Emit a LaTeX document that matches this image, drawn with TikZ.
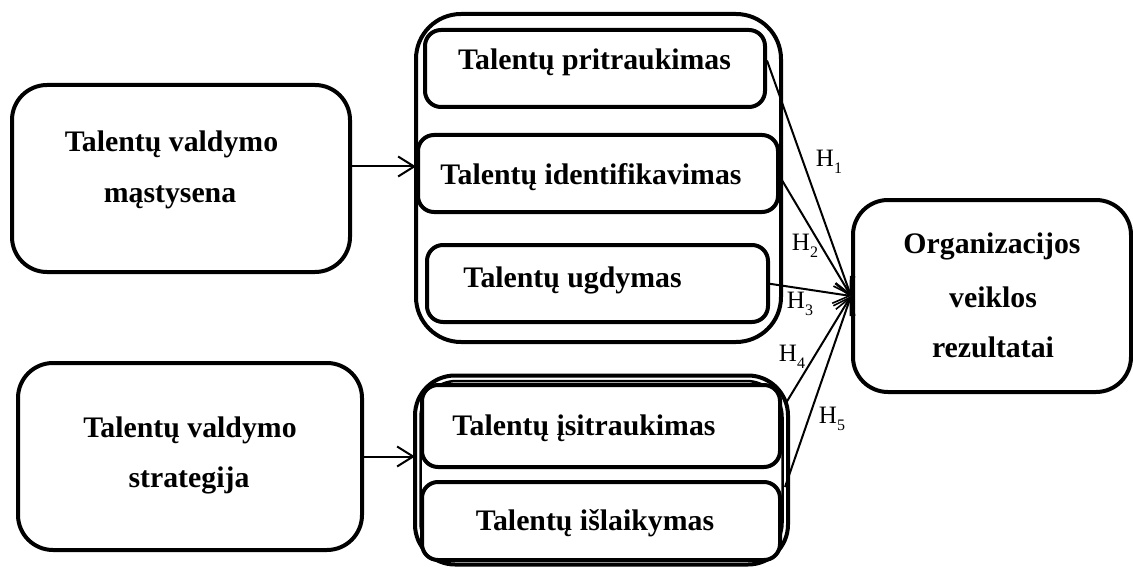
\documentclass[tikz,border=0pt]{standalone}
\usepackage{fontspec}
\setmainfont{Liberation Serif}
\usetikzlibrary{arrows.meta}
\newcommand\hsub[1]{\raisebox{-0.28em}{\fontsize{16}{16}\selectfont #1}}
\begin{document}
\begin{tikzpicture}[x=1pt,y=-1pt,
  box/.style={draw=black,line width=4pt,rectangle,inner sep=0pt,outer sep=0pt},
  bigbox/.style={box,rounded corners=35pt},
  grpbox/.style={box,rounded corners=45pt},
  smallbox/.style={box,rounded corners=16pt},
  lbl/.style={anchor=base,inner sep=0pt,font=\fontsize{29.8}{34}\selectfont\bfseries},
  hl/.style={inner sep=0pt,font=\fontsize{25}{26}\selectfont},
  arr/.style={line width=2pt,-{Straight Barb[length=16pt,width=20pt,line width=2pt]}},
  link/.style={line width=2pt,-{Straight Barb[length=16pt,width=20pt,line width=1.6pt]}}
]
\useasboundingbox (0,0) rectangle (1133,567);
\fill[white] (0,0) rectangle (1133,567);

% left boxes
\node[bigbox,minimum width=338pt,minimum height=187pt] (b1) at (181,178.5) {};
\node[bigbox,minimum width=344pt,minimum height=187pt] (b2) at (190,456.5) {};

% group 1
\node[grpbox,minimum width=365pt,minimum height=328pt] (grp1) at (598.5,178) {};
\node[smallbox,fill=white,minimum width=340pt,minimum height=77pt] (prit) at (595,68.5) {};
\node[smallbox,fill=white,minimum width=360pt,minimum height=77pt] (iden) at (598,173.5) {};
\node[smallbox,fill=white,minimum width=341pt,minimum height=77pt] (ugd) at (597.5,283.5) {};

% group 2
\node[box,rounded corners=40pt,minimum width=373pt,minimum height=189pt] (grp2) at (601.5,470) {};
\node[box,line width=2.5pt,rounded corners=36pt,minimum width=362pt,minimum height=178pt] (grp2in) at (601.5,470) {};
\node[smallbox,fill=white,minimum width=358pt,minimum height=82pt] (isi) at (601,426) {};
\node[smallbox,fill=white,minimum width=358pt,minimum height=78pt] (isl) at (601,521) {};

% result box
\node[bigbox,minimum width=278pt,minimum height=192pt] (org) at (992,296) {};

% texts
\node[lbl] (t1a) at (171.5,152) {Talentų valdymo};
\node[lbl] (t1b) at (170,202) {mąstysena};
\node[lbl] (t2a) at (190,437) {Talentų valdymo};
\node[lbl] (t2b) at (189,487) {strategija};
\node[lbl] (tp) at (594.5,70) {Talentų pritraukimas};
\node[lbl] (ti) at (591,185) {Talentų identifikavimas};
\node[lbl] (tu) at (572.5,287) {Talentų ugdymas};
\node[lbl] (ts) at (584,435) {Talentų įsitraukimas};
\node[lbl] (tl) at (595,530) {Talentų išlaikymas};
\node[lbl] (to1) at (992,253) {Organizacijos};
\node[lbl] (to2) at (993,307) {veiklos};
\node[lbl] (to3) at (993,357) {rezultatai};

% left arrows
\coordinate (a1) at ([yshift=12pt]b1.east);
\draw[arr] (a1) -- (a1 -| grp1.west);
\draw[arr] (b2.east) -- (b2.east -| grp2.west);

% hypothesis connectors
\coordinate (h1s) at ([xshift=2pt,yshift=8pt]prit.east);
\coordinate (h4s) at ([xshift=6pt,yshift=23pt]isi.east);
\coordinate (h5s) at ([xshift=5pt,yshift=34pt]isl.east);
\coordinate (tip) at ([xshift=-2pt]org.west);
\draw[link] (h1s) -- (tip);
\draw[link] (iden.east) -- (tip);
\draw[link] (ugd.east) -- (tip);
\draw[link] (h4s) -- (tip);
\draw[link] (h5s) -- (tip);

\node[hl] (H1) at (829,162) {H\hsub{1}};
\node[hl] (H2) at (805,246) {H\hsub{2}};
\node[hl] (H3) at (800,304) {H\hsub{3}};
\node[hl] (H4) at (792,357) {H\hsub{4}};
\node[hl] (H5) at (832,419) {H\hsub{5}};
\end{tikzpicture}
\end{document}
